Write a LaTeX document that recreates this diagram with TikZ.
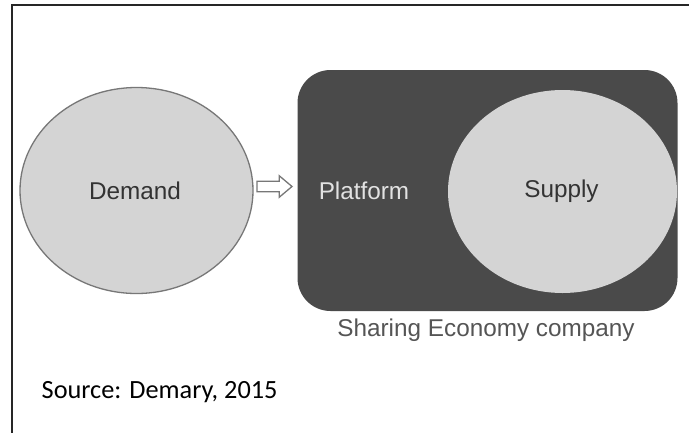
\documentclass[tikz,border=0pt]{standalone}
\usepackage{fontspec}
\usetikzlibrary{shapes.geometric}
\setmainfont{Liberation Sans}
\newfontfamily\srcfont{Carlito}
\definecolor{lightfill}{HTML}{D4D4D4}
\definecolor{circstroke}{HTML}{777777}
\definecolor{boxfill}{HTML}{4A4A4A}
\definecolor{darktext}{HTML}{333333}
\definecolor{captext}{HTML}{555555}
\definecolor{plattext}{HTML}{E2E2E2}
\begin{document}
\begin{tikzpicture}[x=1pt,y=-1pt,
  lbl/.style={font=\fontsize{24.3}{27}\selectfont, inner sep=0pt},
  bubble/.style={ellipse, fill=lightfill, inner sep=0pt},
  blockarrow/.style={draw=circstroke, fill=white, line width=1.3pt, line join=miter}
]
\useasboundingbox (0,0) rectangle (689,432);
\fill[white] (0,0) rectangle (689,432);
% outer frame (top and left edges visible)
\draw[line width=2pt, black!85] (12,440) -- (12,5) -- (700,5);

% company box
\node[draw=none, fill=boxfill, rounded corners=33pt, minimum width=380pt, minimum height=241pt, inner sep=0pt] (company) at (487.5,190.5) {};

% demand
\node[bubble, draw=circstroke, line width=1.3pt, minimum width=233pt, minimum height=206pt] (demand) at (136.5,190.5) {};
\node[lbl, text=darktext] (demandlbl) at (135,190.5) {Demand};

% supply
\node[bubble, minimum width=229pt, minimum height=203pt] (supply) at (562.5,191.5) {};
\node[lbl, text=darktext] (supplylbl) at (561.5,191) {Supply};

% platform label
\node[lbl, text=plattext] (platform) at (364,191) {Platform};

% caption
\node[lbl, text=captext] (caption) at (486,330) {Sharing Economy company};

% open block arrow between demand and company
\coordinate (arrS) at (257,186.5);
\draw[blockarrow] (arrS) ++(0,-5.3) -- ++(22.3,0) -- ++(0,-5.4) -- ++(12.7,10.7) -- ++(-12.7,10.7) -- ++(0,-5.4) -- ++(-22.3,0) -- cycle;

% source
\node[inner sep=0pt, anchor=west, font=\srcfont\fontsize{26.3}{30}\selectfont] (source) at (41.5,392) {Source: Demary, 2015};
\end{tikzpicture}
\end{document}
